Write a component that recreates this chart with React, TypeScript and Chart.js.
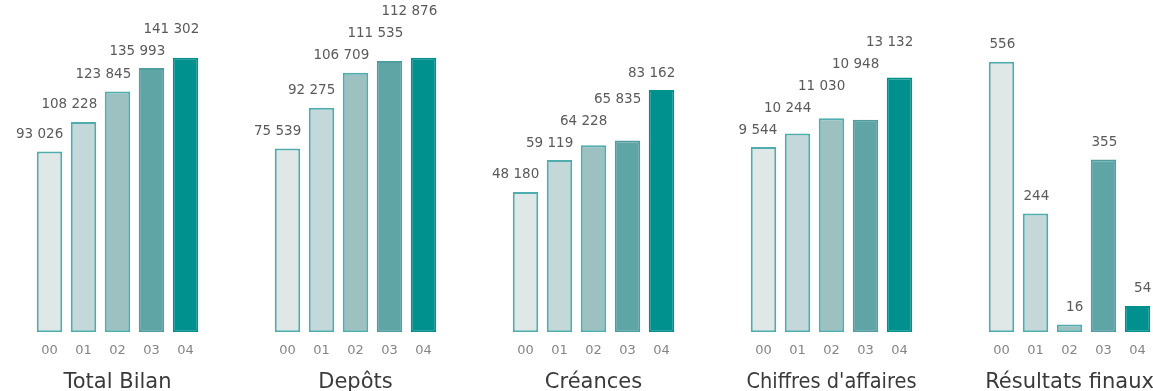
import React, { useEffect, useRef } from "react";
import { Chart, registerables } from "chart.js";

Chart.register(...registerables);

const years = ["00", "01", "02", "03", "04"];
const titles = ["Total Bilan", "Depôts", "Créances", "Chiffres d'affaires", "Résultats finaux"];
const totalBilan = [93026, 108228, 123845, 135993, 141302];
const depots = [75539, 92275, 106709, 111535, 112876];
const creances = [48180, 59119, 64228, 65835, 83162];
const chiffres = [9544, 10244, 11030, 10948, 13132];
const resultats = [556, 244, 16, 355, 54];
const axisMax = [171000, 136600, 114100, 17120, 683];

const seriesList = [totalBilan, depots, creances, chiffres, resultats];

const fillColors = ["#dfe7e7", "#c4d8da", "#9dc0c1", "#5fa5a6", "#00918e"];
const borderColors = ["#4fadad", "#4fadad", "#4fadad", "#4f9d9e", "#00918e"];

const FONT = "'DejaVu Sans', Verdana, sans-serif";

function fmt(v: number): string {
  return String(v).replace(/\B(?=(\d{3})+(?!\d))/g, " ");
}

const labelPlugin = {
  id: "stackedLabels",
  afterDatasetsDraw(chart: any) {
    const ctx = chart.ctx;
    const meta = chart.getDatasetMeta(0);
    const values = chart.data.datasets[0].data as number[];
    ctx.save();
    ctx.font = `13.5px ${FONT}`;
    ctx.fillStyle = "#5a5a5a";
    ctx.textAlign = "right";
    ctx.textBaseline = "middle";
    let prev: { y: number; right: number } | null = null;
    meta.data.forEach((bar: any, i: number) => {
      const text = fmt(values[i]);
      const w = ctx.measureText(text).width;
      const right = bar.x + bar.width / 2 + 1;
      const left = right - w;
      let y = bar.y - 17;
      if (prev && prev.right > left && y > prev.y - 22) y = prev.y - 22;
      ctx.fillText(text, right, y);
      prev = { y, right };
    });
    ctx.restore();
  },
};

function SmallChart({ idx }: { idx: number }) {
  const ref = useRef<HTMLCanvasElement | null>(null);
  useEffect(() => {
    if (!ref.current) return;
    const chart = new Chart(ref.current, {
      type: "bar",
      data: {
        labels: years,
        datasets: [
          {
            data: seriesList[idx],
            backgroundColor: fillColors,
            borderColor: borderColors,
            borderWidth: 2,
            borderSkipped: false,
            categoryPercentage: 1,
            barPercentage: 0.75,
          },
        ],
      },
      options: {
        responsive: false,
        animation: false,
        devicePixelRatio: 1,
        layout: { padding: { left: 32.5, right: 35.5, top: 0, bottom: 0 } },
        plugins: { legend: { display: false }, tooltip: { enabled: false } },
        scales: {
          x: {
            grid: { display: false, drawTicks: false },
            border: { display: false },
            ticks: {
              font: { family: FONT, size: 13 },
              color: "#858585",
              padding: 11,
              autoSkip: false,
              maxRotation: 0,
            },
            title: {
              display: true,
              text: titles[idx],
              font: { family: FONT, size: 21 },
              color: "#3a3a3a",
              padding: { top: 0, bottom: 0 },
            },
          },
          y: { display: false, min: 0, max: axisMax[idx] },
        },
      },
      plugins: [labelPlugin],
    });
    return () => chart.destroy();
  }, [idx]);
  return (
    <canvas
      ref={ref}
      width={238}
      height={395}
      style={{ position: "absolute", left: idx * 238, top: 0, width: 238, height: 395 }}
    />
  );
}

export default function App() {
  return (
    <div
      style={{
        position: "fixed",
        left: 0,
        top: 0,
        width: 1153,
        height: 391,
        overflow: "hidden",
        background: "#ffffff",
      }}
    >
      {titles.map((_, i) => (
        <SmallChart key={i} idx={i} />
      ))}
    </div>
  );
}
